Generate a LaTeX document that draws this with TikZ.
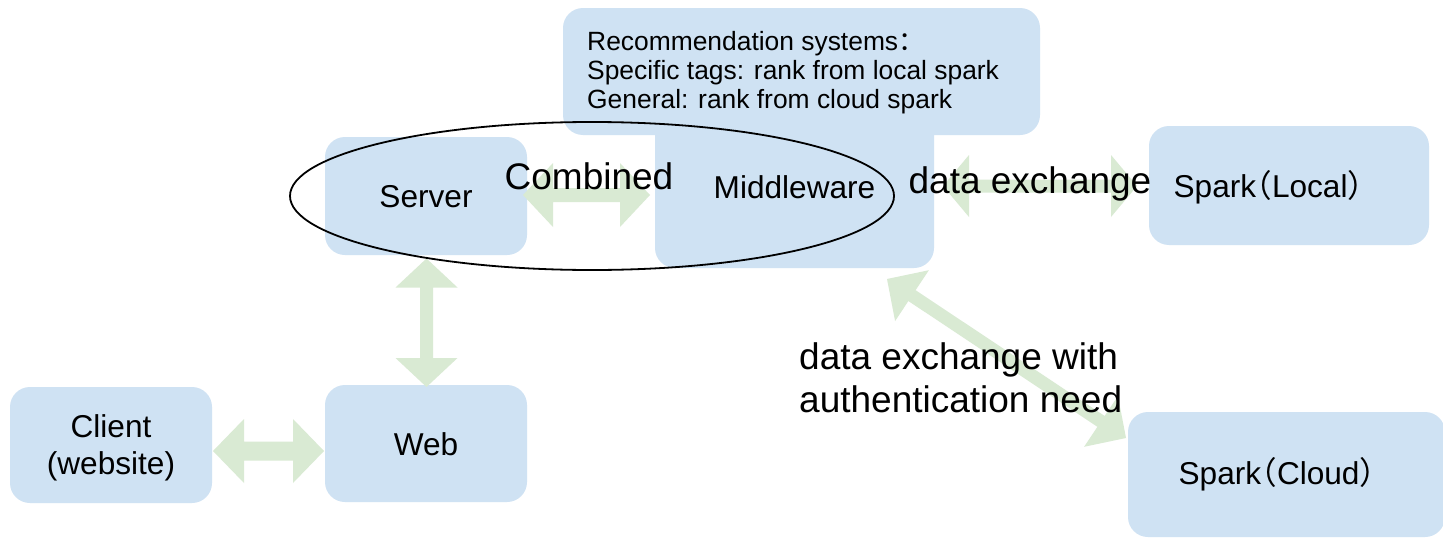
\documentclass[tikz,border=0pt]{standalone}
\usepackage{fontspec}
\setmainfont{Liberation Sans}
\newfontfamily\cjk[RawFeature=+halt]{Noto Sans CJK SC}
\usetikzlibrary{calc,shapes.geometric}
\definecolor{boxblue}{RGB}{207,226,243}
\definecolor{arrowgreen}{RGB}{217,234,211}
% block double arrow: #1 from, #2 to, #3 shaft half width, #4 head half width, #5 head length
\newcommand\blockarrow[5]{%
  \coordinate (bahA) at ($(#1)!#5pt!(#2)$);
  \coordinate (bahB) at ($(#2)!#5pt!(#1)$);
  \fill[arrowgreen] (#1) -- ($(bahA)!#4pt!90:(#2)$) -- ($(bahA)!#3pt!90:(#2)$)
    -- ($(bahB)!#3pt!-90:(#1)$) -- ($(bahB)!#4pt!-90:(#1)$) -- (#2)
    -- ($(bahB)!#4pt!90:(#1)$) -- ($(bahB)!#3pt!90:(#1)$)
    -- ($(bahA)!#3pt!-90:(#2)$) -- ($(bahA)!#4pt!-90:(#2)$) -- cycle;
}
\begin{document}
\begin{tikzpicture}[x=1pt,y=-1pt,
  box/.style={fill=boxblue, rounded corners=20pt, inner sep=0pt, outer sep=0pt},
  boxtxt/.style={text height=23pt, text depth=0pt, font=\fontsize{31.6}{37}\selectfont},
  lbl/.style={inner sep=0pt, font=\fontsize{31.6}{37}\selectfont},
  biglbl/.style={inner sep=0pt, font=\fontsize{37}{42}\selectfont},
  reclbl/.style={inner sep=0pt, anchor=base west, font=\fontsize{26.4}{29.5}\selectfont},
  ring/.style={draw=black, line width=1.8pt, ellipse, inner sep=0pt}
]
\useasboundingbox (0,0) rectangle (1443,538);
\fill[white] (0,0) rectangle (1443,538);
\clip (0,0) rectangle (1443,538);

% boxes
\node[box, boxtxt, minimum width=279pt, minimum height=162pt] (mid) at (794.5,187) {Middleware};
\node[box, minimum width=477pt, minimum height=127pt] (rec) at (801.5,71.5) {};
\node[box, boxtxt, minimum width=202pt, minimum height=118pt] (server) at (426,196) {Server};
\node[box, minimum width=280pt, minimum height=119pt] (sparkl) at (1289,185.5) {};
\node[box, minimum width=202pt, minimum height=116pt] (client) at (111,445) {};
\node[box, boxtxt, minimum width=202pt, minimum height=117pt] (web) at (426,443.5) {Web};
\node[box, minimum width=317pt, minimum height=125pt] (sparkc) at (1286.5,474.5) {};

% arrows
\coordinate (a1) at ($(server.east)+(-4,-1)$);
\coordinate (b1) at ($(a1 -| mid.west)+(-5,0)$);
\blockarrow{a1}{b1}{7}{32}{30}
\coordinate (a2) at ($(mid.east)+(9,-1)$);
\coordinate (b2) at ($(a2 -| sparkl.west)+(-12,0)$);
\blockarrow{a2}{b2}{6.5}{31}{26}
\coordinate (a3) at ($(server.south)+(0.5,3.5)$);
\coordinate (b3) at ($(a3 |- web.north)+(0,2)$);
\blockarrow{a3}{b3}{6.5}{31}{29}
\coordinate (a4) at ($(client.east)+(1,6)$);
\coordinate (b4) at ($(a4 -| web.west)+(-1,0)$);
\blockarrow{a4}{b4}{9.5}{32}{31}
\coordinate (a5) at ($(mid.south east)+(-47,11)$);
\coordinate (b5) at ($(sparkc.north west)+(-2,26)$);
\blockarrow{a5}{b5}{6.5}{30.5}{30}

% ellipse
\node[ring, minimum width=604pt, minimum height=148pt] (ring) at (592,196) {};

% texts
\node[lbl, align=center] (clienttxt) at (111,448.3) {Client\\(website)};
\node[lbl, anchor=base] (sparkltxt) at (1268.5,197) {Spark{\cjk （}Local{\cjk ）}};
\node[lbl, anchor=base] (sparkctxt) at (1277,484) {Spark{\cjk （}Cloud{\cjk ）}};
\node[reclbl] (rec1) at (587,50) {Recommendation systems{\cjk ：}};
\node[reclbl] (rec2) at (587,79) {Specific tags: rank from local spark};
\node[reclbl] (rec3) at (587,108) {General: rank from cloud spark};
\node[biglbl, anchor=base] (combtxt) at (589,189) {Combined};
\node[biglbl, anchor=base] (dxtxt) at (1030,193) {data exchange};
\node[biglbl, anchor=base west] (auth1) at (799,369) {data exchange with};
\node[biglbl, anchor=base west] (auth2) at (799,412) {authentication need};
\end{tikzpicture}
\end{document}
